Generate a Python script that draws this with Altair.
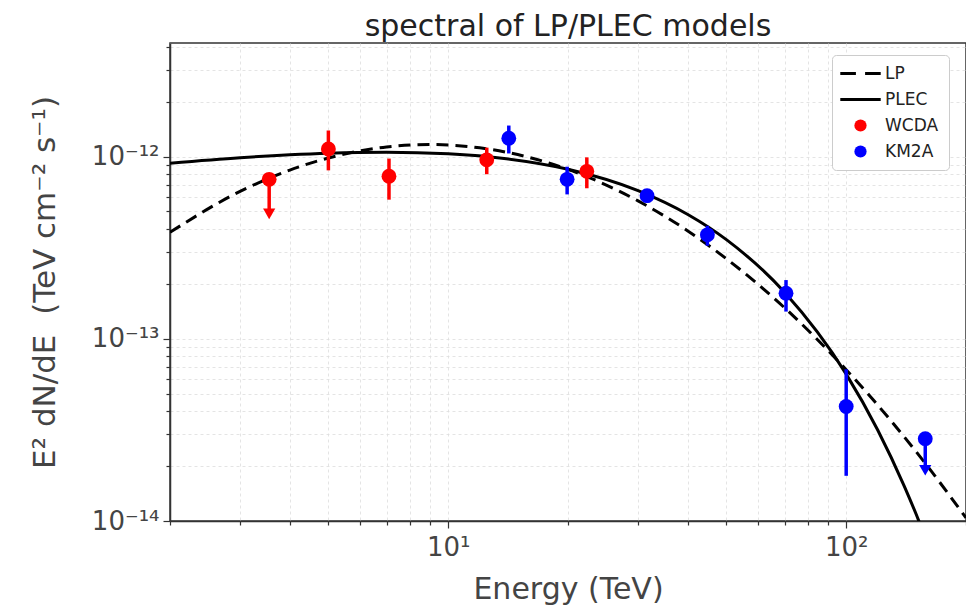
import altair as alt
import pandas as pd

# ---------------- data ----------------
# WCDA (red) points
wcda_energy = [3.55, 5.0, 7.1, 12.5, 22.3]
wcda_flux = [7.5e-13, 1.10e-12, 7.8e-13, 9.6e-13, 8.3e-13]
wcda_low = [4.85e-13, 8.4e-13, 5.8e-13, 8.0e-13, 6.7e-13]
wcda_high = [7.5e-13, 1.39e-12, 9.75e-13, 1.12e-12, 9.9e-13]
wcda_ul = [True, False, False, False, False]

# KM2A (blue) points
km2a_energy = [14.2, 19.9, 31.6, 44.8, 70.6, 100.0, 158.0]
km2a_flux = [1.26e-12, 7.5e-13, 6.1e-13, 3.72e-13, 1.78e-13, 4.25e-14, 2.83e-14]
km2a_low = [1.04e-12, 6.2e-13, 5.6e-13, 3.24e-13, 1.41e-13, 1.77e-14, 1.9e-14]
km2a_high = [1.48e-12, 8.8e-13, 6.6e-13, 4.17e-13, 2.1e-13, 6.8e-14, 2.83e-14]
km2a_ul = [False, False, False, False, False, False, True]

# LP model curve (dashed)
lp_energy = [2, 3, 4, 5, 7, 9, 12, 16, 20, 30, 40, 50, 70, 100, 130, 160, 200]
lp_flux = [3.84e-13, 6.44e-13, 8.43e-13, 9.82e-13, 1.13e-12, 1.164e-12, 1.117e-12,
           9.89e-13, 8.51e-13, 5.71e-13, 3.91e-13, 2.75e-13, 1.48e-13, 6.76e-14,
           3.52e-14, 2.0e-14, 1.04e-14]

# PLEC model curve (solid)
plec_energy = [2, 3, 4, 5, 7, 10, 14, 20, 30, 40, 50, 70, 100, 120, 140, 150, 155]
plec_flux = [9.2e-13, 9.86e-13, 1.023e-12, 1.044e-12, 1.057e-12, 1.036e-12, 9.73e-13,
             8.52e-13, 6.5e-13, 4.81e-13, 3.5e-13, 1.8e-13, 6.4e-14, 3.16e-14,
             1.55e-14, 1.085e-14, 9.06e-15]

series_names = ["LP", "PLEC", "WCDA", "KM2A"]
series_colors = ["black", "black", "red", "blue"]

x_ticks = [2, 3, 4, 5, 6, 7, 8, 9, 10, 20, 30, 40, 50, 60, 70, 80, 90, 100, 200]
y_ticks = [1e-14, 2e-14, 3e-14, 4e-14, 5e-14, 6e-14, 7e-14, 8e-14, 9e-14,
           1e-13, 2e-13, 3e-13, 4e-13, 5e-13, 6e-13, 7e-13, 8e-13, 9e-13,
           1e-12, 2e-12, 3e-12, 4e-12]

# ---------------- tables ----------------
pts = pd.DataFrame({
    "series": ["WCDA"] * len(wcda_energy) + ["KM2A"] * len(km2a_energy),
    "energy": wcda_energy + km2a_energy,
    "flux": wcda_flux + km2a_flux,
    "low": wcda_low + km2a_low,
    "high": wcda_high + km2a_high,
    "ul": wcda_ul + km2a_ul,
})
lp = pd.DataFrame({"energy": lp_energy, "flux": lp_flux})
plec = pd.DataFrame({"energy": plec_energy, "flux": plec_flux})

FONT = "DejaVu Sans"
AX_COL = "#333333"
LAB_COL = "#444444"

xscale = alt.Scale(type="log", domain=[2, 200], nice=False)
yscale = alt.Scale(type="log", domain=[1e-14, 4.2e-12], nice=False)

x_axis = alt.Axis(
    values=x_ticks,
    labelExpr="datum.value == 10 ? '10¹' : datum.value == 100 ? '10²' : ''",
    title="Energy (TeV)",
    grid=True, gridDash=[3, 3], gridColor="#dddddd", gridWidth=0.8,
    tickSize={"condition": {"test": "datum.value == 10 || datum.value == 100", "value": 7}, "value": 4},
    tickColor=AX_COL, tickWidth=1.2, domainColor=AX_COL, domainWidth=1.5,
    labelOverlap=False, labelFlush=False, labelFont=FONT, labelFontSize=26,
    labelColor=LAB_COL, labelPadding=6,
    titleFont=FONT, titleFontSize=30, titleFontWeight="normal", titleColor=LAB_COL,
    titlePadding=14,
)
y_axis = alt.Axis(
    values=y_ticks,
    labelExpr="datum.value == 1e-12 ? '10⁻¹²' : datum.value == 1e-13 ? '10⁻¹³' : datum.value == 1e-14 ? '10⁻¹⁴' : ''",
    title="E² dN/dE\u00a0\u00a0(TeV cm⁻² s⁻¹)",
    grid=True, gridDash=[3, 3], gridColor="#dddddd", gridWidth=0.8,
    tickSize={"condition": {"test": "datum.value == 1e-12 || datum.value == 1e-13 || datum.value == 1e-14", "value": 7}, "value": 4},
    tickColor=AX_COL, tickWidth=1.2, domainColor=AX_COL, domainWidth=1.5,
    labelOverlap=False, labelFlush=False, labelFont=FONT, labelFontSize=26,
    labelColor=LAB_COL, labelPadding=4,
    titleFont=FONT, titleFontSize=31, titleFontWeight="normal", titleColor=LAB_COL,
    titlePadding=30,
)

X = alt.X("energy:Q", scale=xscale, axis=x_axis)
Y = alt.Y("flux:Q", scale=yscale, axis=y_axis)

lp_line = alt.Chart(lp).mark_line(
    color="black", strokeWidth=3, strokeDash=[12, 7], clip=True, interpolate="monotone"
).encode(x=X, y=Y)

plec_line = alt.Chart(plec).mark_line(
    color="black", strokeWidth=3, clip=True, interpolate="monotone"
).encode(x=X, y=Y)

color_scale = alt.Scale(domain=series_names, range=series_colors)
dash_path = "M-3.3,-0.25L-0.75,-0.25L-0.75,0.25L-3.3,0.25Z M0.75,-0.25L3.3,-0.25L3.3,0.25L0.75,0.25Z"
solid_path = "M-3.3,-0.25L3.3,-0.25L3.3,0.25L-3.3,0.25Z"
shape_scale = alt.Scale(domain=series_names, range=[dash_path, solid_path, "circle", "circle"])

legend = alt.Legend(
    title=None, orient="none", legendX=662, legendY=12,
    fillColor="white", strokeColor="#cccccc", cornerRadius=4, padding=10,
    labelFont=FONT, labelFontSize=17, labelColor="#222222",
    symbolSize=150, rowPadding=8, symbolOffset=10, labelOffset=16,
)

pt_color = alt.condition("datum.series == 'WCDA'", alt.value("red"), alt.value("blue"))

errbars = alt.Chart(pts).mark_rule(strokeWidth=3.5).encode(
    x=X, y=alt.Y("low:Q", scale=yscale, axis=y_axis), y2="high:Q",
    color=pt_color,
)

arrows = alt.Chart(pts).transform_filter("datum.ul").mark_point(
    shape="triangle-down", filled=True, size=150, opacity=1
).encode(
    x=X, y=alt.Y("low:Q", scale=yscale, axis=y_axis),
    color=pt_color,
)

points = alt.Chart(pts).mark_point(filled=True, size=220, opacity=1).encode(
    x=X, y=Y,
    color=alt.Color("series:N", scale=color_scale, legend=legend),
    shape=alt.Shape("series:N", scale=shape_scale, legend=legend),
)

chart = alt.layer(lp_line, plec_line, errbars, arrows, points).properties(
    width=796, height=478,
    title=alt.TitleParams("spectral of LP/PLEC models", font=FONT, fontSize=30,
                          fontWeight="normal", color="#222222", anchor="middle", offset=-8),
    padding={"left": 162, "top": 35, "right": 0, "bottom": 85},
    autosize=alt.AutoSizeParams(type="none"),
    background="white",
).configure_view(stroke=AX_COL, strokeWidth=1.5)

chart.save("out.html", embed_options={"renderer": "svg", "actions": False})
